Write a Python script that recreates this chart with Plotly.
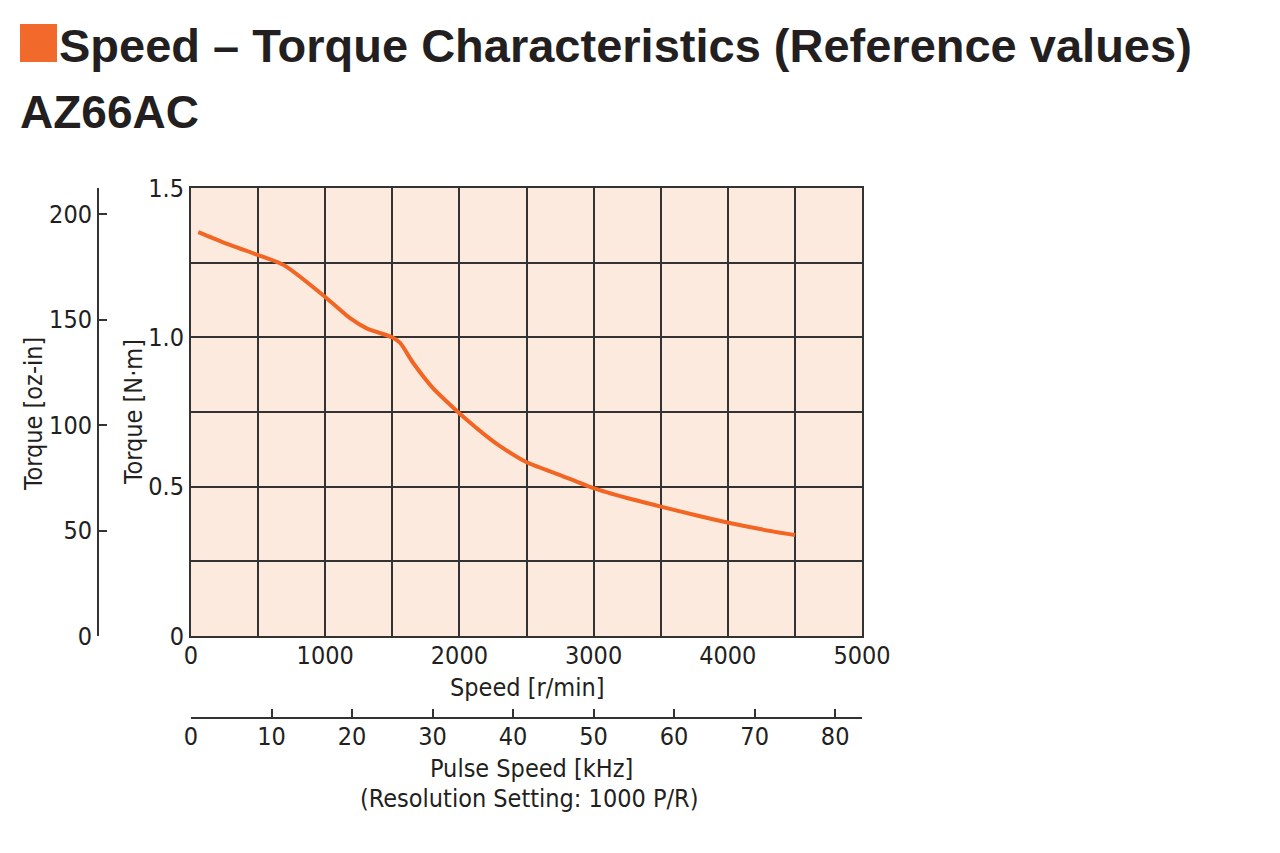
import plotly.graph_objects as go

# ---- data ----
speed_rpm = [54, 230, 497, 663, 713, 998, 1185, 1309, 1498, 1557, 1656, 1803, 1905, 1997,
             2228, 2302, 2501, 2750, 2998, 3249, 3502, 3755, 4006, 4240, 4501]
torque_nm = [1.352, 1.320, 1.276, 1.248, 1.236, 1.136, 1.064, 1.030, 1.000, 0.982, 0.914, 0.830,
             0.785, 0.747, 0.660, 0.636, 0.582, 0.539, 0.495, 0.462, 0.433, 0.405, 0.379, 0.358, 0.338]

speed_ticks = [0, 500, 1000, 1500, 2000, 2500, 3000, 3500, 4000, 4500, 5000]
speed_labels = ["0", "", "1000", "", "2000", "", "3000", "", "4000", "", "5000"]
torque_ticks = [0, 0.25, 0.5, 0.75, 1.0, 1.25, 1.5]
torque_labels = ["0", "", "0.5", "", "1.0", "", "1.5"]
ozin_ticks = [0, 50, 100, 150, 200]
pulse_ticks = [0, 10, 20, 30, 40, 50, 60, 70, 80]

NM_TO_OZIN = 141.612
RPM_TO_KHZ = 1 / 60.0  # 1000 P/R

W, H = 1280, 853
def px(x): return x / W
def py(y): return 1 - y / H

ORANGE = "#F26522"
BG = "#FDEADF"
GRID = "#333333"
TXT = "#231F20"
NARROW = "Liberation Sans Narrow, Arial Narrow, DejaVu Sans Condensed, sans-serif"
BOLD = "Liberation Sans, Arial, Helvetica, sans-serif"

fig = go.Figure()
fig.add_trace(go.Scatter(x=speed_rpm, y=torque_nm, mode="lines",
                         line=dict(color=ORANGE, width=4, shape="spline", smoothing=0.6),
                         xaxis="x", yaxis="y", showlegend=False, hoverinfo="x+y"))
# invisible helpers to carry the secondary axes
fig.add_trace(go.Scatter(x=[0, 5000 * RPM_TO_KHZ], y=[0, 0], mode="lines", opacity=0,
                         xaxis="x2", yaxis="y", showlegend=False, hoverinfo="skip"))
fig.add_trace(go.Scatter(x=[0, 0], y=[0, 1.5 * NM_TO_OZIN], mode="lines", opacity=0,
                         xaxis="x", yaxis="y2", showlegend=False, hoverinfo="skip"))

tickfont = dict(family=NARROW, size=25, color=TXT)
titlefont = dict(family=NARROW, size=25, color=TXT)

fig.update_layout(
    width=W, height=H, autosize=False,
    margin=dict(l=0, r=0, t=0, b=0, pad=0),
    paper_bgcolor="white", plot_bgcolor=BG,
    showlegend=False,
    xaxis=dict(domain=[px(191), px(862)], range=[0, 5000], anchor="y", automargin=False,
               tickmode="array", tickvals=speed_ticks, ticktext=speed_labels,
               showgrid=True, gridcolor=GRID, gridwidth=2,
               showline=True, mirror=True, linecolor=GRID, linewidth=2,
               ticks="", tickfont=tickfont, zeroline=False, ticklabelstandoff=-4, fixedrange=True),
    yaxis=dict(domain=[py(636), py(188)], range=[0, 1.5], anchor="x", automargin=False,
               tickmode="array", tickvals=torque_ticks, ticktext=torque_labels,
               showgrid=True, gridcolor=GRID, gridwidth=2,
               showline=True, mirror=True, linecolor=GRID, linewidth=2,
               ticks="", tickfont=tickfont, zeroline=False, ticklabelstandoff=0, fixedrange=True),
    yaxis2=dict(overlaying="y", anchor="free", position=px(98), side="left", automargin=False,
                range=[0, 1.5 * NM_TO_OZIN], tickmode="array", tickvals=ozin_ticks,
                showgrid=False, zeroline=False, showline=True, linecolor=GRID, linewidth=2,
                ticks="inside", ticklen=8, tickwidth=2, tickcolor=GRID,
                tickfont=tickfont, fixedrange=True),
    xaxis2=dict(overlaying="x", anchor="free", position=py(718), side="bottom", automargin=False,
                range=[0, 5000 * RPM_TO_KHZ], tickmode="array", tickvals=pulse_ticks,
                showgrid=False, zeroline=False, showline=True, linecolor=GRID, linewidth=2,
                ticks="inside", ticklen=8, tickwidth=2, tickcolor=GRID,
                tickfont=tickfont, ticklabelstandoff=-4, fixedrange=True),
    shapes=[dict(type="rect", xref="paper", yref="paper",
                 x0=px(20), x1=px(57), y0=py(62), y1=py(24),
                 fillcolor="#F26A2B", line=dict(width=0))],
)

annos = [
    dict(text="Speed – Torque Characteristics (Reference values)", x=px(57), y=py(45),
         xanchor="left", yanchor="middle", font=dict(family=BOLD, size=47, color=TXT, weight="bold")),
    dict(text="AZ66AC", x=px(18), y=py(112), xanchor="left", yanchor="middle",
         font=dict(family=BOLD, size=46, color=TXT, weight="bold")),
    dict(text="Torque [oz-in]", x=px(33), y=py(414), textangle=-90, xanchor="center", yanchor="middle",
         font=titlefont),
    dict(text="Torque [N·m]", x=px(133), y=py(412), textangle=-90, xanchor="center", yanchor="middle",
         font=titlefont),
    dict(text="Speed [r/min]", x=px(527), y=py(687), xanchor="center", yanchor="middle",
         font=titlefont),
    dict(text="Pulse Speed [kHz]", x=px(531), y=py(768), xanchor="center", yanchor="middle",
         font=titlefont),
    dict(text="(Resolution Setting: 1000 P/R)", x=px(529), y=py(798), xanchor="center", yanchor="middle",
         font=titlefont),
]
for a in annos:
    a.update(xref="paper", yref="paper", showarrow=False)
fig.update_layout(annotations=annos)

fig.write_html("out.html", config={"displayModeBar": False},
               post_script="document.body.style.margin='0';document.body.style.overflow='hidden';")
